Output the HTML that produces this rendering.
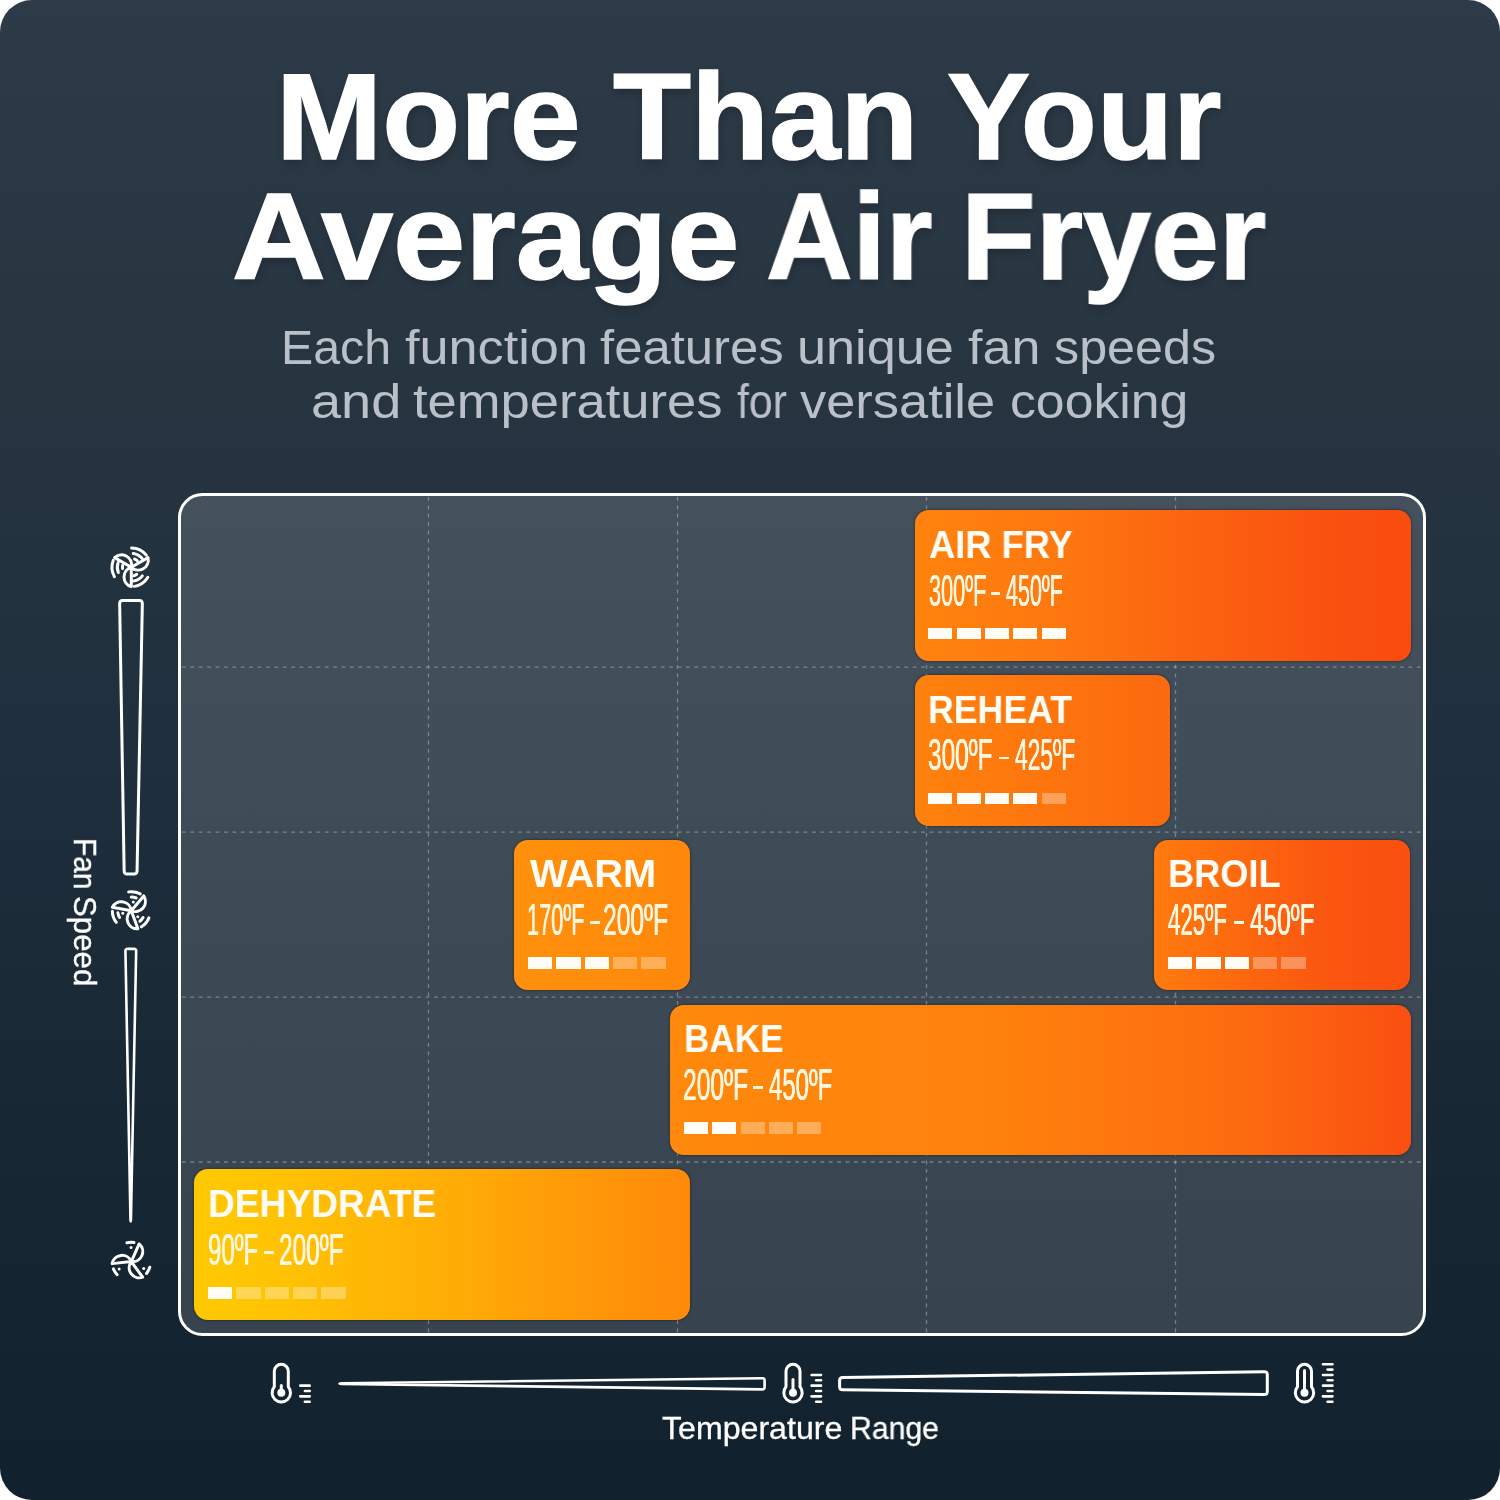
<!DOCTYPE html>
<html lang="en"><head><meta charset="utf-8"><title>More Than Your Average Air Fryer</title>
<style>
html,body{margin:0;padding:0;background:#fff}
body{width:1500px;height:1500px;overflow:hidden;position:relative;font-family:"Liberation Sans",sans-serif}
#bg{position:absolute;left:0;top:0;width:1500px;height:1500px;border-radius:32px;
 background:linear-gradient(180deg,#2d3a47 0%,#273541 25%,#1f2f3d 50%,#182734 75%,#12212e 100%)}
.t{position:absolute;white-space:nowrap;transform-origin:0 0;line-height:1;will-change:transform}
h1,p{margin:0;padding:0;font-size:0}
.h{font-weight:700;font-size:123px;color:#fff;-webkit-text-stroke:1.5px #fff;text-shadow:1px 4px 8px rgba(0,0,0,.22)}
.s{font-size:48px;font-weight:400;color:#b9c0c7}
.a{font-size:30.7px;color:#fff;-webkit-text-stroke:.3px #fff}
#frame{position:absolute;left:178px;top:493px;width:1248px;height:843px;box-sizing:border-box;
 border:3px solid #fff;border-radius:24.5px;background:rgba(255,255,255,.15)}
svg{position:absolute;left:0;top:0}
.card{position:absolute;border-radius:14px;box-shadow:0 0 2.5px rgba(30,10,0,.75)}
.nm{font-weight:700;font-size:39.5px;color:#fffdf6}
.tp{font-size:43.5px;color:#fff6e0;text-shadow:.55px 0 0 #fff6e0,-.55px 0 0 #fff6e0}
.card .dash{position:absolute;top:81.8px;height:2.7px;background:#fff6e0}
.card i{position:absolute;top:117.5px;width:24.1px;height:11.8px;background:#fffdf6;border-radius:.5px}
</style></head>
<body>
<div id="bg"></div>
<h1><span class="t h" style="left:276.49px;top:55.38px;transform:scaleX(1.0364)">More</span> <span class="t h" style="left:613.04px;top:55.38px;transform:scaleX(1.0391)">Than</span> <span class="t h" style="left:947.03px;top:55.38px;transform:scaleX(1.0131)">Your</span>
<span class="t h" style="left:232.33px;top:174.98px;transform:scaleX(1.0553)">Average</span> <span class="t h" style="left:766.31px;top:174.98px;transform:scaleX(0.9743)">Air</span> <span class="t h" style="left:961.21px;top:174.98px;transform:scaleX(0.9923)">Fryer</span></h1>
<p><span class="t s" style="left:280.98px;top:323.57px;transform:scaleX(1.0057)">Each</span> <span class="t s" style="left:405px;top:323.57px;transform:scaleX(1.0881)">function</span> <span class="t s" style="left:600px;top:323.57px;transform:scaleX(1.0595)">features</span> <span class="t s" style="left:796.74px;top:323.57px;transform:scaleX(1.0879)">unique</span> <span class="t s" style="left:968.3px;top:323.57px;transform:scaleX(1.0838)">fan</span> <span class="t s" style="left:1053.95px;top:323.57px;transform:scaleX(1.0472)">speeds</span>
<span class="t s" style="left:311.05px;top:377.57px;transform:scaleX(1.1275)">and</span> <span class="t s" style="left:413.3px;top:377.57px;transform:scaleX(1.0944)">temperatures</span> <span class="t s" style="left:736.7px;top:377.57px;transform:scaleX(0.8924)">for</span> <span class="t s" style="left:800px;top:377.57px;transform:scaleX(1.0918)">versatile</span> <span class="t s" style="left:1009.54px;top:377.57px;transform:scaleX(1.0781)">cooking</span></p>
<div id="frame"></div>
<svg width="1500" height="1500" viewBox="0 0 1500 1500">
<g fill="none" stroke="#b4bdc4" stroke-opacity=".5" stroke-width="1.3" stroke-dasharray="3.8 4.6"><path d="M428.5 497V1333"/><path d="M677.5 497V1333"/><path d="M926.5 497V1333"/><path d="M1175.5 497V1333"/><path d="M182 667.2H1423"/><path d="M182 832.1H1423"/><path d="M182 997.1H1423"/><path d="M182 1162H1423"/></g>
<g fill="none" stroke="#fff" stroke-linejoin="round" stroke-linecap="round"><path d="M119.65 603.6Q119.6 600.6 122.6 600.6L139.4 600.6Q142.4 600.6 142.34 603.6L137.06 871Q137 874 134 874L127.2 874Q124.2 874 124.15 871Z" stroke-width="3"/><path d="M125.44 951.1Q125.4 948.9 127.6 948.9L134 948.9Q136.2 948.9 136.16 951.1L130.94 1219.3Q130.9 1221.5 130.7 1221.5L130.7 1221.5Q130.5 1221.5 130.46 1219.3Z" stroke-width="2.6"/><path d="M339.5 1383.6Q339.5 1383.3 341.7 1383.27L762.4 1378.23Q764.6 1378.2 764.6 1380.4L764.6 1387.2Q764.6 1389.4 762.4 1389.37L341.7 1383.93Q339.5 1383.9 339.5 1383.6Z" stroke-width="2.6"/><path d="M839.6 1380.6Q839.6 1377.6 842.6 1377.56L1264.3 1371.64Q1267.3 1371.6 1267.3 1374.6L1267.3 1391.6Q1267.3 1394.6 1264.3 1394.57L842.6 1389.83Q839.6 1389.8 839.6 1386.8Z" stroke-width="3"/></g>
<g fill="none" stroke="#fff" stroke-width="3" stroke-linecap="round" stroke-linejoin="round"><path d="M131.3 567.3L148.01 557.65A10.04 10.04 0 0 1 131.3 567.3"/><path d="M146.3 555.15A19.3 19.3 0 0 0 131.64 548"/><path d="M142.02 558.3A14 14 0 0 0 133.25 553.44"/><path d="M137.3 560.86A8.8 8.8 0 0 0 134.6 559.14"/><path d="M131.3 567.3L131.3 586.6A10.04 10.04 0 0 1 131.3 567.3"/><path d="M134.32 586.36A19.3 19.3 0 0 0 147.84 577.24"/><path d="M133.73 581.09A14 14 0 0 0 142.33 575.92"/><path d="M133.87 575.72A8.8 8.8 0 0 0 136.72 574.23"/><path d="M131.3 567.3L114.59 557.65A10.04 10.04 0 0 1 131.3 567.3"/><path d="M113.28 560.38A19.3 19.3 0 0 0 114.42 576.66"/><path d="M118.14 562.51A14 14 0 0 0 118.32 572.54"/><path d="M122.73 565.32A8.8 8.8 0 0 0 122.59 568.52"/></g>
<g fill="none" stroke="#fff" stroke-width="3" stroke-linecap="round" stroke-linejoin="round"><path d="M131.3 910.7L143.71 895.92A10.04 10.04 0 0 1 131.3 910.7"/><path d="M140.22 893.92A19 19 0 0 0 128.66 891.88"/><path d="M136.17 898A13.6 13.6 0 0 0 131.3 897.1"/><circle cx="133.3" cy="902.03" r="1.5" fill="#fff" stroke="none"/><path d="M131.3 910.7L137.9 928.84A10.04 10.04 0 0 1 131.3 910.7"/><path d="M141.37 926.81A19 19 0 0 0 148.92 917.82"/><path d="M139.86 921.27A13.6 13.6 0 0 0 143.08 917.5"/><circle cx="137.81" cy="916.77" r="1.5" fill="#fff" stroke="none"/><path d="M131.3 910.7L112.29 907.35A10.04 10.04 0 0 1 131.3 910.7"/><path d="M112.31 911.36A19 19 0 0 0 116.33 922.4"/><path d="M117.87 912.83A13.6 13.6 0 0 0 119.52 917.5"/><circle cx="122.79" cy="913.3" r="1.5" fill="#fff" stroke="none"/></g>
<g fill="none" stroke="#fff" stroke-width="3" stroke-linecap="round" stroke-linejoin="round"><path d="M131.3 1261.6L139.15 1243.97A10.04 10.04 0 0 1 131.3 1261.6"/><path d="M133.99 1242.49A19.3 19.3 0 0 0 126.96 1242.79"/><circle cx="131.05" cy="1247.4" r="1.5" fill="#fff" stroke="none"/><path d="M131.3 1261.6L142.64 1277.21A10.04 10.04 0 0 1 131.3 1261.6"/><path d="M146.51 1273.48A19.3 19.3 0 0 0 149.76 1267.24"/><circle cx="143.72" cy="1268.48" r="1.5" fill="#fff" stroke="none"/><path d="M131.3 1261.6L112.11 1263.62A10.04 10.04 0 0 1 131.3 1261.6"/><path d="M113.41 1268.83A19.3 19.3 0 0 0 117.18 1274.76"/><circle cx="119.13" cy="1268.91" r="1.5" fill="#fff" stroke="none"/></g>
<g fill="none" stroke="#fff" stroke-width="3" stroke-linecap="round" stroke-linejoin="round"><path d="M274.3 1386.83L274.3 1371.3A7 7 0 0 1 288.3 1371.3L288.3 1386.83A9.2 9.2 0 1 1 274.3 1386.83Z"/><circle cx="281.3" cy="1392.8" r="4" fill="#fff" stroke="none"/><path d="M281.3 1392.8L281.3 1385.5"/><path d="M304.9 1401.7L309.7 1401.7" stroke-width="2.6"/><path d="M300.3 1396.35L309.7 1396.35" stroke-width="2.6"/><path d="M304.9 1391L309.7 1391" stroke-width="2.6"/><path d="M300.3 1385.65L309.7 1385.65" stroke-width="2.6"/></g>
<g fill="none" stroke="#fff" stroke-width="3" stroke-linecap="round" stroke-linejoin="round"><path d="M786 1386.83L786 1371.3A7 7 0 0 1 800 1371.3L800 1386.83A9.2 9.2 0 1 1 786 1386.83Z"/><circle cx="793" cy="1392.8" r="4" fill="#fff" stroke="none"/><path d="M793 1392.8L793 1379.5"/><path d="M816.2 1401.7L821 1401.7" stroke-width="2.6"/><path d="M811.6 1396.35L821 1396.35" stroke-width="2.6"/><path d="M816.2 1391L821 1391" stroke-width="2.6"/><path d="M811.6 1385.65L821 1385.65" stroke-width="2.6"/><path d="M816.2 1380.3L821 1380.3" stroke-width="2.6"/><path d="M811.6 1374.95L821 1374.95" stroke-width="2.6"/></g>
<g fill="none" stroke="#fff" stroke-width="3" stroke-linecap="round" stroke-linejoin="round"><path d="M1297.5 1386.83L1297.5 1371.3A7 7 0 0 1 1311.5 1371.3L1311.5 1386.83A9.2 9.2 0 1 1 1297.5 1386.83Z"/><circle cx="1304.5" cy="1392.8" r="4" fill="#fff" stroke="none"/><path d="M1304.5 1392.8L1304.5 1370.5"/><path d="M1327.6 1401.7L1332.4 1401.7" stroke-width="2.6"/><path d="M1323 1396.35L1332.4 1396.35" stroke-width="2.6"/><path d="M1327.6 1391L1332.4 1391" stroke-width="2.6"/><path d="M1323 1385.65L1332.4 1385.65" stroke-width="2.6"/><path d="M1327.6 1380.3L1332.4 1380.3" stroke-width="2.6"/><path d="M1323 1374.95L1332.4 1374.95" stroke-width="2.6"/><path d="M1327.6 1369.6L1332.4 1369.6" stroke-width="2.6"/><path d="M1323 1364.25L1332.4 1364.25" stroke-width="2.6"/></g>
</svg>
<div class="card" style="left:914.5px;top:510.2px;width:496px;height:150.8px;background:linear-gradient(90deg,#ff830d 0%,#fe7810 28%,#fb6010 60%,#f95010 85%,#f94c10 100%)"><span class="t nm" style="left:14.6px;top:14.66px;transform:scaleX(0.9181)">AIR FRY</span><span class="t tp" style="left:14.1px;top:59.38px;transform:scaleX(0.4979)">300ºF</span><b class="dash" style="left:76.4px;width:9.1px"></b><span class="t tp" style="left:91.91px;top:59.38px;transform:scaleX(0.4935)">450ºF</span><i style="left:13.8px"></i><i style="left:42.15px"></i><i style="left:70.5px"></i><i style="left:98.85px"></i><i style="left:127.2px"></i></div>
<div class="card" style="left:914.5px;top:675px;width:255.5px;height:150.8px;background:linear-gradient(90deg,#ff820d 0%,#fc690f 100%)"><span class="t nm" style="left:13.89px;top:14.66px;transform:scaleX(0.9038)">REHEAT</span><span class="t tp" style="left:13.94px;top:59.38px;transform:scaleX(0.5602)">300ºF</span><b class="dash" style="left:84.1px;width:10.2px"></b><span class="t tp" style="left:100.38px;top:59.38px;transform:scaleX(0.5228)">425ºF</span><i style="left:13.8px"></i><i style="left:42.15px"></i><i style="left:70.5px"></i><i style="left:98.85px"></i><i style="left:127.2px;opacity:.33"></i></div>
<div class="card" style="left:514.3px;top:839.6px;width:175.4px;height:150.8px;background:linear-gradient(90deg,#ff910c 0%,#ff870b 100%)"><span class="t nm" style="left:15.3px;top:14.66px;transform:scaleX(1.0085)">WARM</span><span class="t tp" style="left:13.2px;top:59.38px;transform:scaleX(0.4997)">170ºF</span><b class="dash" style="left:75.3px;width:10.2px"></b><span class="t tp" style="left:88.57px;top:59.38px;transform:scaleX(0.5652)">200ºF</span><i style="left:13.8px"></i><i style="left:42.15px"></i><i style="left:70.5px"></i><i style="left:98.85px;opacity:.33"></i><i style="left:127.2px;opacity:.33"></i></div>
<div class="card" style="left:1154.3px;top:839.6px;width:256.2px;height:150.8px;background:linear-gradient(90deg,#ff7a0e 0%,#fa5610 68%,#f94f10 100%)"><span class="t nm" style="left:14.07px;top:14.66px;transform:scaleX(0.9169)">BROIL</span><span class="t tp" style="left:14.19px;top:59.38px;transform:scaleX(0.5122)">425ºF</span><b class="dash" style="left:79.5px;width:10.2px"></b><span class="t tp" style="left:95.74px;top:59.38px;transform:scaleX(0.5602)">450ºF</span><i style="left:13.8px"></i><i style="left:42.15px"></i><i style="left:70.5px"></i><i style="left:98.85px;opacity:.33"></i><i style="left:127.2px;opacity:.33"></i></div>
<div class="card" style="left:670px;top:1004.6px;width:740.5px;height:150.8px;background:linear-gradient(90deg,#ff890c 0%,#ff810d 45%,#fd6c10 76%,#f94f11 100%)"><span class="t nm" style="left:14.02px;top:14.66px;transform:scaleX(0.8897)">BAKE</span><span class="t tp" style="left:13.47px;top:59.38px;transform:scaleX(0.5652)">200ºF</span><b class="dash" style="left:83px;width:10.2px"></b><span class="t tp" style="left:99.25px;top:59.38px;transform:scaleX(0.5495)">450ºF</span><i style="left:13.8px"></i><i style="left:42.15px"></i><i style="left:70.5px;opacity:.33"></i><i style="left:98.85px;opacity:.33"></i><i style="left:127.2px;opacity:.33"></i></div>
<div class="card" style="left:194.3px;top:1169.3px;width:495.4px;height:150.8px;background:linear-gradient(90deg,#ffc902 0%,#ffc204 18%,#ffae06 50%,#ff9a08 76%,#ff890a 100%)"><span class="t nm" style="left:13.82px;top:14.66px;transform:scaleX(0.9394)">DEHYDRATE</span><span class="t tp" style="left:13.79px;top:59.38px;transform:scaleX(0.5534)">90ºF</span><b class="dash" style="left:69.9px;width:10px"></b><span class="t tp" style="left:84.58px;top:59.38px;transform:scaleX(0.5607)">200ºF</span><i style="left:13.8px"></i><i style="left:42.15px;opacity:.33"></i><i style="left:70.5px;opacity:.33"></i><i style="left:98.85px;opacity:.33"></i><i style="left:127.2px;opacity:.33"></i></div>
<div><span class="t a" style="left:661.8px;top:1413.61px;transform:scaleX(1.0467)">Temperature</span> <span class="t a" style="left:850.03px;top:1413.61px;transform:scaleX(0.9844)">Range</span></div>
<div><span class="t a" style="left:99.39px;top:838.45px;transform:rotate(90deg) scaleX(0.9757)">Fan</span> <span class="t a" style="left:99.39px;top:895.78px;transform:rotate(90deg) scaleX(1.0177)">Speed</span></div>
</body></html>
